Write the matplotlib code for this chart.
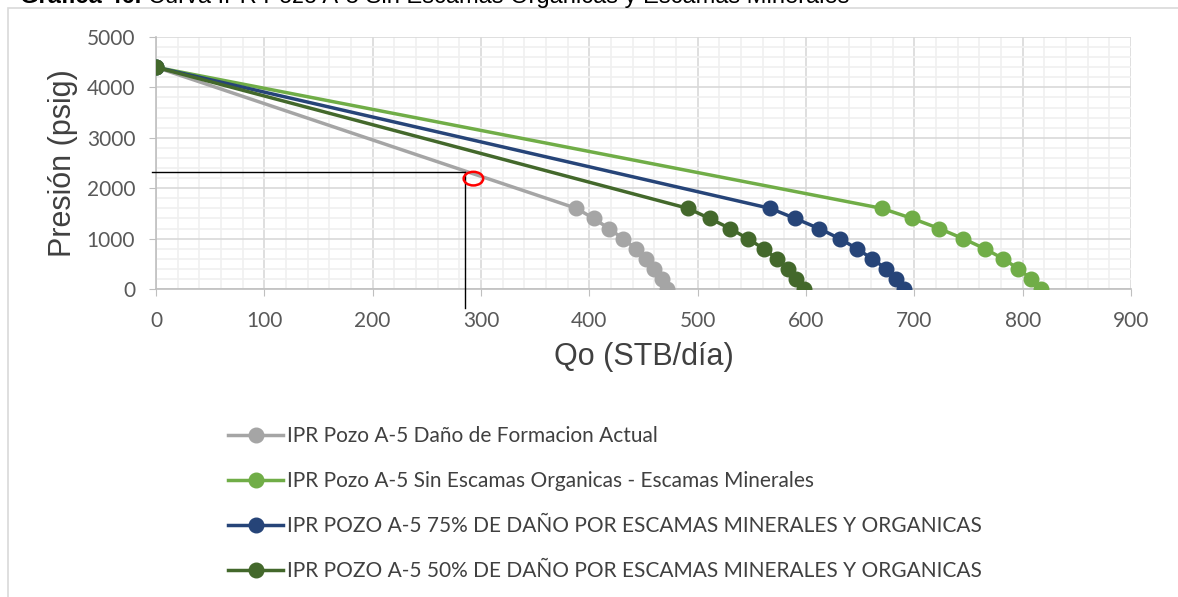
import matplotlib.pyplot as plt
import numpy as np
from matplotlib.patches import Ellipse, Rectangle
from matplotlib.lines import Line2D
from matplotlib.ticker import MultipleLocator

# --- DATA ---
PWF = [4400, 1600, 1400, 1200, 1000, 800, 600, 400, 200, 0]

QO_ACTUAL = [0, 388, 404, 418, 431, 443, 452, 460, 467, 472]
QO_SIN_ESCAMAS = [0, 670, 698, 723, 745, 765, 782, 796, 808, 817]
QO_75 = [0, 567, 590, 612, 631, 647, 661, 674, 683, 690]
QO_50 = [0, 491, 511, 530, 546, 561, 573, 583, 591, 598]

LABELS = [
    "IPR Pozo A-5 Daño de Formacion Actual",
    "IPR Pozo A-5 Sin Escamas Organicas - Escamas Minerales",
    "IPR POZO A-5 75% DE DAÑO POR ESCAMAS MINERALES Y ORGANICAS",
    "IPR POZO A-5 50% DE DAÑO POR ESCAMAS MINERALES Y ORGANICAS",
]
COLORS = ["#a5a5a5", "#70ad47", "#264478", "#43682b"]

# reading of the operating point
Q_OP = 285
P_OP = 2320

# --- PLOT ---
fig = plt.figure(figsize=(11.78, 5.97), dpi=100)
ax = fig.add_axes([156 / 1178, 1 - 289 / 597, 975 / 1178, 252 / 597])

# outer chart frame
fig.patches.append(Rectangle((8 / 1178, -0.05), 1.2, 1 - 8 / 597 + 0.05,
                             transform=fig.transFigure, facecolor='none',
                             edgecolor='#d9d9d9', linewidth=1.2))

series = [QO_ACTUAL, QO_SIN_ESCAMAS, QO_75, QO_50]
for qo, lab, col in zip(series, LABELS, COLORS):
    ax.plot(qo, PWF, color=col, linewidth=2.5, marker='o', markersize=10.5,
            label=lab, zorder=3)

# operating point reading
ax.plot([-4, Q_OP], [P_OP, P_OP], color='black', linewidth=1, zorder=4, clip_on=False)
ax.plot([Q_OP, Q_OP], [P_OP, -380], color='black', linewidth=1, zorder=4, clip_on=False)
ax.add_patch(Ellipse((293, 2190), 18, 270, facecolor='none', edgecolor='#ff0000',
                     linewidth=1.8, zorder=5))

ax.set_xlim(0, 900)
ax.set_ylim(0, 5000)
ax.xaxis.set_major_locator(MultipleLocator(100))
ax.xaxis.set_minor_locator(MultipleLocator(20))
ax.yaxis.set_major_locator(MultipleLocator(1000))
ax.yaxis.set_minor_locator(MultipleLocator(200))

ax.grid(which='major', color='#d9d9d9', linewidth=1.2, zorder=0)
ax.grid(which='minor', color='#f0f0f0', linewidth=1.2, zorder=0)
ax.set_axisbelow(True)

for s in ['top', 'right']:
    ax.spines[s].set_visible(False)
for s in ['left', 'bottom']:
    ax.spines[s].set_color('#bfbfbf')
    ax.spines[s].set_linewidth(1.2)

ax.tick_params(which='major', direction='out', length=5, color='#bfbfbf',
               labelsize=15, labelcolor='#595959')
ax.tick_params(axis='x', pad=11)
ax.tick_params(axis='y', pad=10)
ax.tick_params(which='minor', length=0)
for t in ax.get_xticklabels() + ax.get_yticklabels():
    t.set_family('Lato')

ax.set_xlabel('Qo (STB/día)', fontsize=22, color='#404040', family='Liberation Sans', labelpad=8)
ax.set_ylabel('Presión (psig)', fontsize=22, color='#404040', family='Liberation Sans', labelpad=6)

handles = [Line2D([], [], color=c, linewidth=2.5, marker='o', markersize=10.5) for c in COLORS]
fig.legend(handles, LABELS, loc='upper left', bbox_to_anchor=(218 / 1178, 1 - 416 / 597),
           frameon=False, prop={'family': 'Lato', 'size': 15}, labelcolor='#404040',
           handlelength=2.6, handletextpad=0.2, labelspacing=1.2, borderpad=0)

# clipped caption at the very top
r = fig.canvas.get_renderer()
t1 = fig.text(20 / 1178, 1 - 3 / 597, 'Gráfica 46. ', fontsize=17, fontweight='bold',
              family='Liberation Sans', va='baseline', ha='left')
x1 = t1.get_window_extent(renderer=r).x1
fig.text(x1 / fig.bbox.width, 1 - 3 / 597,
         'Curva IPR Pozo A-5 Sin Escamas Organicas y Escamas Minerales',
         fontsize=17, family='Liberation Sans', va='baseline', ha='left')

fig.savefig('out.png', dpi=100)
